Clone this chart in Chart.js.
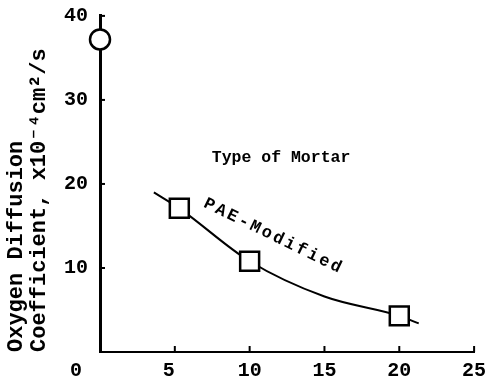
<!DOCTYPE html>
<html>
<head>
<meta charset="utf-8">
<script src="https://cdn.jsdelivr.net/npm/chart.js@4/dist/chart.umd.min.js"></script>
<style>
  html, body { margin: 0; padding: 0; background: #fff; }
  #wrap { width: 490px; height: 381px; }
</style>
</head>
<body>
<div id="wrap"><canvas id="myChart" width="490" height="381"></canvas></div>
<script>
// values
const plainX = [0];
const plainY = [37.2];
const paeX = [5.3, 10, 20];
const paeY = [17.1, 10.8, 4.3];
// hand-drawn fit line through the PAE points
const fitX = [3.6, 5.3, 10, 15, 20, 21.3];
const fitY = [19.0, 17.1, 10.8, 6.6, 4.3, 3.4];

const xTicks = [0, 5, 10, 15, 20, 25];
const yTicks = [10, 20, 30, 40];

const yTitle = ['Oxygen Diffusion', 'Coefficient, x10\u207B\u2074cm\u00B2/s'];
const groupTitle = 'Type of Mortar';
const seriesName = 'PAE-Modified';

const monoFont = '"Liberation Mono", "DejaVu Sans Mono", monospace';

function toPoints(xs, ys) {
    return xs.map((x, i) => ({x: x, y: ys[i]}));
}

// short tick marks pointing into the plot + the free text labels
const inkPlugin = {
    id: 'ink',
    afterDraw(chart) {
        const ctx = chart.ctx;
        const xs = chart.scales.x, ys = chart.scales.y;
        ctx.save();
        ctx.strokeStyle = '#000';
        ctx.lineWidth = 2;
        yTicks.forEach(v => {
            const py = ys.getPixelForValue(v);
            ctx.beginPath();
            ctx.moveTo(xs.left, py);
            ctx.lineTo(xs.left + 5, py);
            ctx.stroke();
        });
        xTicks.forEach(v => {
            if (v === 0) return;
            const px = xs.getPixelForValue(v);
            ctx.beginPath();
            ctx.moveTo(px, ys.bottom);
            ctx.lineTo(px, ys.bottom - 6);
            ctx.stroke();
        });

        ctx.fillStyle = '#000';
        ctx.textBaseline = 'middle';
        ctx.textAlign = 'center';
        ctx.font = 'bold 16.5px ' + monoFont;
        ctx.fillText(groupTitle, xs.getPixelForValue(12.1), ys.getPixelForValue(23.1));

        // rotated series label, spaced out like a typewriter
        const ang = 26 * Math.PI / 180;
        const sx = xs.getPixelForValue(7.3), sy = ys.getPixelForValue(17.5);
        ctx.font = 'bold 17px ' + monoFont;
        for (let i = 0; i < seriesName.length; i++) {
            ctx.save();
            ctx.translate(sx + i * 12.8 * Math.cos(ang), sy + i * 12.8 * Math.sin(ang));
            ctx.rotate(ang);
            ctx.fillText(seriesName[i], 0, 0);
            ctx.restore();
        }
        ctx.restore();
    }
};

function createChart() {
    const ctx = document.getElementById('myChart').getContext('2d');
    return new Chart(ctx, {
        type: 'scatter',
        data: {
            datasets: [{
                label: 'Plain',
                data: toPoints(plainX, plainY),
                pointStyle: 'circle',
                pointRadius: 10,
                pointBackgroundColor: '#fff',
                pointBorderColor: '#000',
                pointBorderWidth: 2.5,
                clip: false
            }, {
                label: seriesName,
                data: toPoints(paeX, paeY),
                pointStyle: 'rect',
                pointRadius: 13.4,
                pointBackgroundColor: '#fff',
                pointBorderColor: '#000',
                pointBorderWidth: 2.5,
                clip: false
            }, {
                label: 'fit',
                data: toPoints(fitX, fitY),
                showLine: true,
                pointRadius: 0,
                borderColor: '#000',
                borderWidth: 2,
                cubicInterpolationMode: 'monotone',
                clip: false
            }]
        },
        options: {
            responsive: false,
            animation: false,
            layout: { padding: { top: 15, right: 10, left: 0, bottom: 0 } },
            plugins: { legend: { display: false }, tooltip: { enabled: false } },
            scales: {
                x: {
                    type: 'linear',
                    min: 0,
                    max: 25,
                    afterFit: s => { s.height = 29; s.paddingLeft = 0; s.paddingRight = 0; },
                    afterBuildTicks: s => { s.ticks = xTicks.map(v => ({value: v})); },
                    grid: { display: false, drawTicks: false },
                    border: { display: true, color: '#000', width: 2 },
                    ticks: {
                        color: '#000',
                        padding: 7,
                        maxRotation: 0,
                        font: { family: monoFont, size: 20, weight: 'bold' },
                        // the 0 and 5 sit a little left of their ticks
                        callback: v => v === 0 ? '0    ' : (v === 5 ? '5 ' : String(v))
                    }
                },
                y: {
                    type: 'linear',
                    min: 0,
                    max: 40,
                    afterFit: s => { s.width = 100; s.paddingTop = 0; s.paddingBottom = 0; },
                    afterBuildTicks: s => { s.ticks = yTicks.map(v => ({value: v})); },
                    grid: { display: false, drawTicks: false },
                    border: { display: true, color: '#000', width: 3 },
                    ticks: {
                        color: '#000',
                        padding: 12,
                        font: { family: monoFont, size: 20, weight: 'bold' }
                    },
                    title: {
                        display: true,
                        text: yTitle,
                        align: 'start',
                        color: '#000',
                        padding: { top: 5, bottom: 0 },
                        font: { family: monoFont, size: 22, weight: 'bold', lineHeight: 1.05 }
                    }
                }
            }
        },
        plugins: [inkPlugin]
    });
}

createChart();
</script>
</body>
</html>
